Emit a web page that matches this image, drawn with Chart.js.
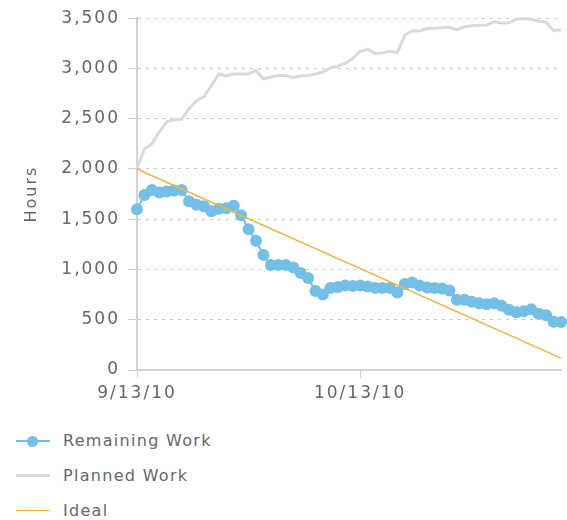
<!DOCTYPE html>
<html>
<head>
<meta charset="utf-8">
<script src="https://cdn.jsdelivr.net/npm/chart.js@4/dist/chart.umd.min.js"></script>
<style>
  html, body { margin: 0; padding: 0; background: #fff; }
  #wrap { position: relative; width: 567px; height: 520px; overflow: hidden; }
  #box { position: absolute; left: 0; top: 0; width: 567px; height: 415px; }
  #legend { position: absolute; left: 0; top: 425px; width: 567px; font-family: "DejaVu Sans", sans-serif; font-size: 16px; letter-spacing: 1.3px; color: #666; }
  .item { position: relative; height: 34.8px; }
  .sample { position: absolute; left: 16px; width: 34px; top: 16px; }
  .dot { position: absolute; left: 11px; width: 11px; height: 11px; border-radius: 50%; top: -5px; }
  .txt { position: absolute; left: 63px; top: 6px; white-space: nowrap; }
</style>
</head>
<body>
<div id="wrap">
  <div id="box"><canvas id="c"></canvas></div>
  <div id="legend"></div>
</div>
<script>
const dates = ['9/13/10','9/14/10','9/15/10','9/16/10','9/17/10','9/18/10','9/19/10','9/20/10','9/21/10','9/22/10',
  '9/23/10','9/24/10','9/25/10','9/26/10','9/27/10','9/28/10','9/29/10','9/30/10','10/1/10','10/2/10',
  '10/3/10','10/4/10','10/5/10','10/6/10','10/7/10','10/8/10','10/9/10','10/10/10','10/11/10','10/12/10',
  '10/13/10','10/14/10','10/15/10','10/16/10','10/17/10','10/18/10','10/19/10','10/20/10','10/21/10','10/22/10',
  '10/23/10','10/24/10','10/25/10','10/26/10','10/27/10','10/28/10','10/29/10','10/30/10','10/31/10','11/1/10',
  '11/2/10','11/3/10','11/4/10','11/5/10','11/6/10','11/7/10','11/8/10','11/9/10'];
const tickLabels = ['9/13/10', '10/13/10'];
const remainingWork = [1600,1740,1790,1765,1775,1785,1790,1680,1645,1630,
  1580,1605,1610,1635,1540,1400,1285,1145,1045,1045,
  1045,1020,965,915,785,750,815,825,840,835,
  840,830,817,815,815,770,855,870,840,820,
  815,810,790,700,700,680,665,655,665,640,
  600,575,585,605,560,545,480,477];
const plannedWork = [2010,2200,2250,2370,2470,2490,2495,2600,2680,2720,
  2830,2945,2925,2945,2945,2945,2980,2895,2915,2930,
  2930,2910,2925,2930,2945,2965,3005,3025,3050,3100,
  3170,3190,3150,3155,3170,3160,3330,3375,3370,3400,
  3400,3405,3410,3385,3415,3425,3430,3432,3465,3450,
  3455,3490,3498,3490,3470,3460,3375,3385];
const ideal = [2000,null,null,null,null,null,null,null,null,null,
  null,null,null,null,null,null,null,null,null,null,
  null,null,null,null,null,null,null,null,null,null,
  null,null,null,null,null,null,null,null,null,null,
  null,null,null,null,null,null,null,null,null,null,
  null,null,null,null,null,null,null,118];
const seriesNames = ['Remaining Work', 'Planned Work', 'Ideal'];
const yTicks = [0, 500, 1000, 1500, 2000, 2500, 3000, 3500];

const BLUE = '#74bfe6', GRAY = '#dadada', ORANGE = '#f0b440';
const FONT = 'DejaVu Sans';

const spacing = {
  id: 'spacing',
  beforeLayout(c) { c.ctx.letterSpacing = '2px'; },
  beforeDraw(c) { c.ctx.letterSpacing = '2px'; },
  beforeDatasetsDraw(c) { c.ctx.letterSpacing = '2px'; }
};

const chart = new Chart(document.getElementById('c'), {
  type: 'line',
  plugins: [spacing],
  data: {
    labels: dates,
    datasets: [
      { label: seriesNames[0], data: remainingWork, borderColor: BLUE, backgroundColor: BLUE,
        borderWidth: 2, pointRadius: 6, pointBorderWidth: 0, pointHoverRadius: 6, order: 1, clip: false },
      { label: seriesNames[1], data: plannedWork, borderColor: GRAY, backgroundColor: GRAY,
        borderWidth: 3, pointRadius: 0, order: 2, clip: false },
      { label: seriesNames[2], data: ideal, borderColor: ORANGE, backgroundColor: ORANGE,
        borderWidth: 1.5, pointRadius: 0, spanGaps: true, order: 0, clip: false }
    ]
  },
  options: {
    responsive: true,
    maintainAspectRatio: false,
    animation: false,
    events: [],
    layout: { padding: { top: 6, right: 2, left: 0, bottom: 0 } },
    plugins: { legend: { display: false }, tooltip: { enabled: false } },
    scales: {
      x: {
        type: 'category',
        offset: false,
        grid: { display: true, drawOnChartArea: false, drawTicks: true, tickLength: 8, color: '#cfcfcf', lineWidth: 1 },
        border: { display: true, color: '#d2d2d2', width: 2 },
        afterBuildTicks(scale) {
          scale.ticks = scale.ticks.filter(t => tickLabels.includes(dates[t.value]));
        },
        afterFit(scale) { scale.height = 45; },
        ticks: { autoSkip: false, maxRotation: 0, padding: 5, color: '#666', font: { family: FONT, size: 17 } }
      },
      y: {
        min: 0, max: 3500,
        afterBuildTicks(scale) { scale.ticks = yTicks.map(v => ({ value: v })); },
        afterFit(scale) { scale.width = 137; },
        grid: { color: '#c8c8c8', lineWidth: 1, drawTicks: true, tickLength: 9, tickColor: '#cfcfcf' },
        border: { display: true, color: '#d2d2d2', width: 2, dash: [3, 5] },
        ticks: { padding: 8, color: '#666', font: { family: FONT, size: 17 },
          callback: v => Number(v).toLocaleString('en-US') },
        title: { display: true, text: 'Hours', color: '#666', font: { family: FONT, size: 16 }, padding: { top: 22, bottom: 0 } }
      }
    }
  }
});

// HTML legend built from the chart's datasets
const lg = document.getElementById('legend');
chart.data.datasets.forEach((ds, i) => {
  const item = document.createElement('div');
  item.className = 'item';
  const s = document.createElement('div');
  s.className = 'sample';
  s.style.borderTop = ds.borderWidth + 'px solid ' + ds.borderColor;
  s.style.marginTop = (-ds.borderWidth / 2) + 'px';
  if (ds.pointRadius > 0) {
    const d = document.createElement('div');
    d.className = 'dot';
    d.style.background = ds.backgroundColor;
    d.style.top = (-5.5 - ds.borderWidth / 2) + 'px';
    s.appendChild(d);
  }
  const t = document.createElement('div');
  t.className = 'txt';
  t.textContent = ds.label;
  item.appendChild(s);
  item.appendChild(t);
  lg.appendChild(item);
});
</script>
</body>
</html>
